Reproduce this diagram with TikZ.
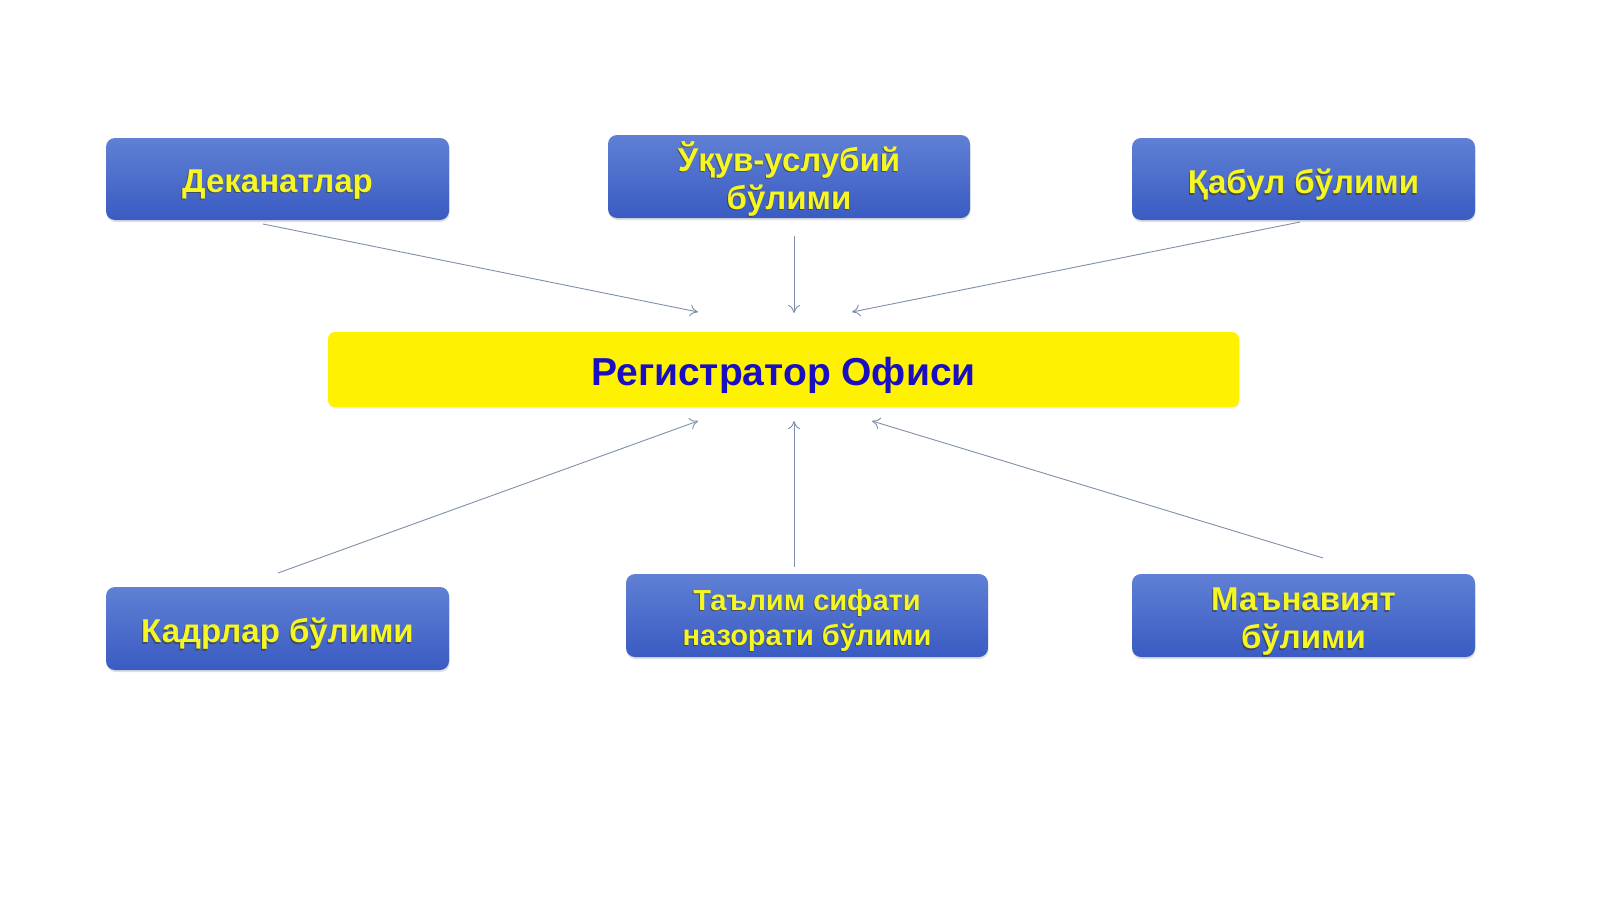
\documentclass[tikz,border=0pt]{standalone}
\usepackage{fontspec}
\setmainfont{Liberation Sans}
\usetikzlibrary{arrows.meta,shadows}
\definecolor{boxtop}{HTML}{5F80D4}
\definecolor{boxbot}{HTML}{3A5BC2}
\definecolor{boxtxt}{HTML}{F6F622}
\definecolor{txtshd}{HTML}{3A3A20}
\definecolor{centtxt}{HTML}{1A0FC0}
\definecolor{arr}{HTML}{7F8FA8}
\tikzset{
  bluebox/.style={rounded corners=9pt, top color=boxtop, bottom color=boxbot, draw=none,
    inner sep=0pt, drop shadow={opacity=0.25, shadow xshift=0.5pt, shadow yshift=-2pt}},
  boxlabel/.style={text=boxtxt, font=\bfseries\fontsize{33}{38}\selectfont, align=center, inner sep=0pt},
  smalllabel/.style={boxlabel, font=\bfseries\fontsize{29}{35}\selectfont},
  lblshadow/.style={text=txtshd, opacity=0.6, xshift=-1pt, yshift=-1.2pt},
  centbox/.style={rounded corners=7pt, fill=yellow, draw=none, inner sep=0pt,
    drop shadow={opacity=0.15, shadow xshift=0.5pt, shadow yshift=-1.5pt}},
  centlabel/.style={text=centtxt, font=\bfseries\fontsize{39}{44}\selectfont, inner sep=0pt},
  conn/.style={draw=arr, line width=0.9pt, -{To[length=8pt,width=12pt]}}
}
% \boxlbl{style}{name}{anchor node}{shift}{text}
\newcommand{\boxlbl}[5]{%
  \node[#1, lblshadow] (#2-s) at ([yshift=-#4pt]#3.center) {#5};
  \node[#1] (#2) at ([yshift=-#4pt]#3.center) {#5};}
\begin{document}
\begin{tikzpicture}[x=1pt,y=-1pt]
\useasboundingbox (0,0) rectangle (1600,899);
% boxes
\node[bluebox, minimum width=343pt, minimum height=82pt] (dek) at (277.5,179) {};
\node[bluebox, minimum width=362pt, minimum height=83pt] (uqv) at (789,176.5) {};
\node[bluebox, minimum width=343pt, minimum height=82pt] (qab) at (1303.5,179) {};
\node[centbox, minimum width=911pt, minimum height=75pt] (reg) at (783.5,369.5) {};
\node[bluebox, minimum width=343pt, minimum height=83pt] (kad) at (277.5,628.5) {};
\node[bluebox, minimum width=362pt, minimum height=83pt] (tal) at (807,615.5) {};
\node[bluebox, minimum width=343pt, minimum height=83pt] (man) at (1303.5,615.5) {};
% labels
\boxlbl{boxlabel}{dek-t}{dek}{5.5}{Деканатлар}
\boxlbl{boxlabel}{uqv-t}{uqv}{2}{Ўқув-услубий\\бўлими}
\boxlbl{boxlabel}{qab-t}{qab}{6}{Қабул бўлими}
\boxlbl{boxlabel}{kad-t}{kad}{5.5}{Кадрлар бўлими}
\boxlbl{smalllabel}{tal-t}{tal}{5}{Таълим сифати\\назорати бўлими}
\boxlbl{boxlabel}{man-t}{man}{6.5}{Маънавият\\бўлими}
\node[centlabel] (reg-t) at ([yshift=-6pt]reg.center) {Регистратор Офиси};
% connector end points
\coordinate (a1) at (263,224); \coordinate (b1) at (698,312);
\coordinate (a2) at (794,236); \coordinate (b2) at (794,313);
\coordinate (a3) at (1300,222); \coordinate (b3) at (852,312);
\coordinate (a4) at (278,573); \coordinate (b4) at (698,421);
\coordinate (a5) at (794,567); \coordinate (b5) at (794,421);
\coordinate (a6) at (1323,558); \coordinate (b6) at (872,421);
\draw[conn] (a1) -- (b1);
\draw[conn] (a2) -- (b2);
\draw[conn] (a3) -- (b3);
\draw[conn] (a4) -- (b4);
\draw[conn] (a5) -- (b5);
\draw[conn] (a6) -- (b6);
\end{tikzpicture}
\end{document}
